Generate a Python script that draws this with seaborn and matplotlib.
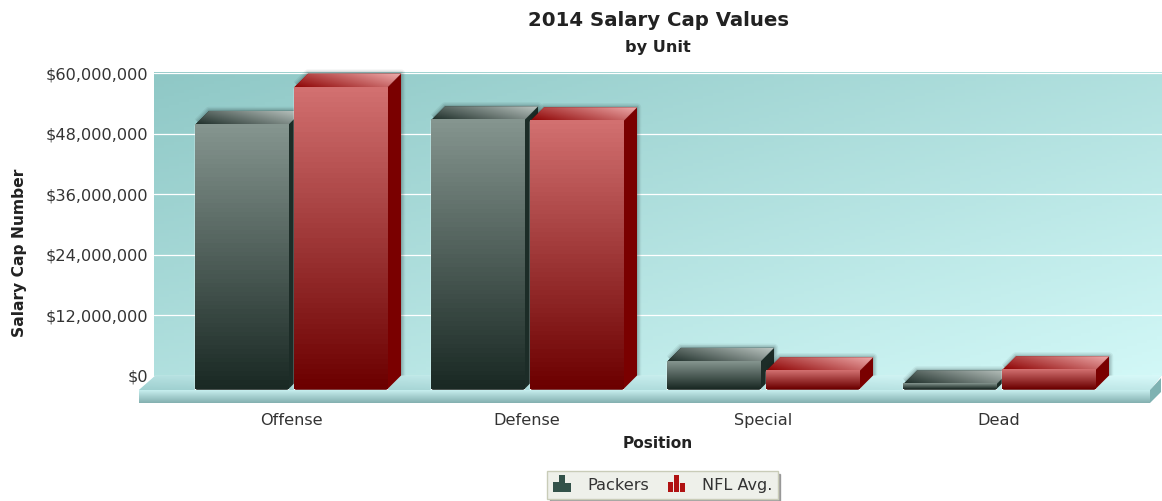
import numpy as np
import pandas as pd
import seaborn as sns
import matplotlib
matplotlib.use("Agg")
import matplotlib.pyplot as plt
from matplotlib.colors import LinearSegmentedColormap as LSC
from matplotlib.legend_handler import HandlerBase
from matplotlib.patches import Patch, Polygon, Rectangle
from matplotlib.ticker import FuncFormatter

units = ["Offense", "Defense", "Special", "Dead"]
packers = [52500000, 53400000, 5500000, 1000000]
nfl_avg = [59900000, 53200000, 3600000, 3800000]
y_ticks = [0, 12000000, 24000000, 36000000, 48000000, 60000000]
series_names = ["Packers", "NFL Avg."]

W, H = 1162, 501
PX_PER_Y = 5.04 / 1e6
PX_PER_CAT = 236.0
DEPTH_X, DEPTH_Y = 14.0, 14.0
STYLE = {
    "Packers": dict(front=("#85958f", "#1a2924"), top=("#1c2c27", "#bcc6c2"), side="#1c2c27", icon="#33524a"),
    "NFL Avg.": dict(front=("#d27070", "#6c0000"), top=("#8c0000", "#eeaaaa"), side="#7a0000", icon="#b01212"),
}
TICK = 11.6

sns.set_theme(style="white")
plt.rcParams["font.family"] = ["DejaVu Sans"]
fig = plt.figure(figsize=(W / 100, H / 100), dpi=100, facecolor="white")


def axes_at(left, top, right, bottom):
    return fig.add_axes([left / W, 1 - bottom / H, (right - left) / W, (bottom - top) / H])


# back wall: carries the value scale
wall = axes_at(154, 72, 1162, 375.5)
wall_top = 303.5 / PX_PER_Y
gx, gy = np.meshgrid(np.linspace(0, 1, 200), np.linspace(0, 1, 100))
wall.imshow(0.5 * gx + 0.5 * gy, extent=(0, 1, 0, wall_top), origin="upper", aspect="auto", zorder=0,
            cmap=LSC.from_list("w", ["#8fc8c6", "#d2f8f7"]), vmin=0, vmax=1)
wall.set_xlim(0, 1)
wall.set_ylim(0, wall_top)
wall.set_yticks(y_ticks)
wall.yaxis.set_major_formatter(FuncFormatter(lambda v, _: f"${v:,.0f}"))
wall.set_xticks([])
wall.tick_params(axis="y", length=0, pad=4, labelsize=TICK, labelcolor="#333333")
wall.grid(axis="y", color="white", lw=0.9, zorder=1)
wall.set_axisbelow(False)
for s in wall.spines.values():
    s.set_visible(False)
wall.set_ylabel("Salary Cap Number", fontsize=11.2, fontweight="bold", color="#222222")
wall.yaxis.set_label_coords(27 / W, 1 - 253 / H, transform=fig.transFigure)

# floor, drawn on a page-wide pixel axes
floor_ax = axes_at(0, 0, W, H)
floor_ax.patch.set_alpha(0)
floor_ax.axis("off")
floor_top = Polygon([(139, 390), (155, 376), (1161, 376), (1150, 390)], fc="#bfeaea", ec="none", zorder=1)
floor_ax.add_patch(floor_top)
fx, fy = np.meshgrid(np.linspace(0, 1, 200), np.linspace(0, 1, 20))
floor_im = floor_ax.imshow(0.6 * fx + 0.4 * (1 - fy), extent=(139, 1161, 390, 376), origin="upper", aspect="auto",
                           cmap=LSC.from_list("ft", ["#9fd0d0", "#d6f8f8"]), vmin=0, vmax=1, zorder=2)
floor_im.set_clip_path(floor_top)
floor_ax.imshow(np.linspace(0, 1, 30)[:, None], extent=(139, 1150, 403, 390), aspect="auto",
                cmap=LSC.from_list("f", ["#c6eeee", "#84b0b0"]), zorder=2)
floor_ax.add_patch(Polygon([(1150, 390), (1161, 378), (1161, 392), (1150, 403)], fc="#7fb2b2", ec="none", zorder=2))
floor_ax.set_xlim(0, W)
floor_ax.set_ylim(H, 0)

# front plane: bars through seaborn
ax = axes_at(139, 30, 1147, 389.5)
ax.patch.set_alpha(0)
df = pd.DataFrame({
    "Position": units * 2,
    "Value": packers + nfl_avg,
    "Series": [series_names[0]] * len(units) + [series_names[1]] * len(units),
})
sns.barplot(data=df, x="Position", y="Value", hue="Series", hue_order=series_names,
            palette={n: STYLE[n]["front"][1] for n in series_names},
            width=0.839, gap=0.06, legend=False, ax=ax, zorder=2, errorbar=None)
xlim = ((139 - 291) / PX_PER_CAT, (1147 - 291) / PX_PER_CAT)
ylim = (0, 359.5 / PX_PER_Y)
ddx = DEPTH_X / PX_PER_CAT
ddy = DEPTH_Y / PX_PER_Y

bars = []
for name, cont in zip(series_names, ax.containers):
    for rect in cont:
        bars.append((rect.get_x(), name, rect))

ramp = np.linspace(0, 1, 60)
for order, (_, name, rect) in enumerate(sorted(bars, key=lambda b: b[0])):
    st = STYLE[name]
    z = 3 + order
    x0, x1 = rect.get_x(), rect.get_x() + rect.get_width()
    h = rect.get_height()
    outline = [(x0 + ddx * 0.2, h + ddy * 0.2), (x0 + ddx, h + ddy), (x1 + ddx, h + ddy), (x1 + ddx, ddy)]
    for lw, a in ((6, 0.06), (4, 0.09), (2, 0.12)):
        ax.add_patch(Polygon(outline, closed=False, fc="none", ec="#102020", lw=lw, alpha=a, zorder=z,
                             joinstyle="round"))
    ax.add_patch(Polygon([(x1, 0), (x1, h), (x1 + ddx, h + ddy), (x1 + ddx, ddy)],
                         fc=st["side"], ec="none", zorder=z + 0.1))
    top = Polygon([(x0, h), (x0 + ddx, h + ddy), (x1 + ddx, h + ddy), (x1, h)],
                  fc=st["top"][0], ec="none", zorder=z + 0.1)
    ax.add_patch(top)
    tx, ty = np.meshgrid(ramp, ramp)
    im = ax.imshow(0.65 * tx + 0.35 * ty, extent=(x0, x1 + ddx, h, h + ddy), origin="lower", aspect="auto",
                   cmap=LSC.from_list("t", list(st["top"])), vmin=0, vmax=1, zorder=z + 0.2)
    im.set_clip_path(top)
    rect.set_zorder(z + 0.1)
    ax.imshow(ramp[:, None], extent=(x0, x1, 0, h), origin="upper", aspect="auto",
              cmap=LSC.from_list("g", list(st["front"])), vmin=0, vmax=1, zorder=z + 0.2)

ax.set_xlim(*xlim)
ax.set_ylim(*ylim)
ax.set_yticks([])
ax.set_ylabel("")
ax.set_xlabel("Position", fontsize=11.1, fontweight="bold", color="#222222")
ax.xaxis.set_label_coords(658 / W, 1 - 436.5 / H, transform=fig.transFigure)
ax.tick_params(axis="x", length=0, pad=17, labelsize=TICK, labelcolor="#333333")
for s in ax.spines.values():
    s.set_visible(False)

fig.text(658 / W, 1 - 20 / H, "2014 Salary Cap Values", ha="center", va="center",
         fontsize=14.2, fontweight="bold", color="#222222")
fig.text(658 / W, 1 - 47.5 / H, "by Unit", ha="center", va="center",
         fontsize=11.6, fontweight="bold", color="#222222")


class IconHandler(HandlerBase):
    def create_artists(self, legend, orig, xd, yd, width, height, fontsize, trans):
        w = width / 3
        base = yd - 2.5
        out = []
        for i, tall in enumerate((7.0, 12.0, 6.0)):
            out.append(Rectangle((xd + i * w, base), w - 0.2, tall, fc=orig.get_facecolor(), ec="none",
                                 transform=trans))
        return out


handles = [Patch(fc=STYLE[n]["icon"], label=n) for n in series_names]
leg = fig.legend(handles=handles, labels=series_names, loc="center",
                 bbox_to_anchor=(662.5 / W, 1 - 485 / H), ncols=2, fontsize=TICK, frameon=True,
                 fancybox=False, edgecolor="#c9ccb8", facecolor="#eef0ea", framealpha=1,
                 shadow={"color": "#808080", "alpha": 0.7, "ox": 2, "oy": -2},
                 handler_map={Patch: IconHandler()}, handlelength=1.12, handleheight=1.0,
                 handletextpad=1.0, columnspacing=1.16, labelcolor="#333333",
                 borderpad=0.35, borderaxespad=0)

fig.savefig("out.png", dpi=100)
